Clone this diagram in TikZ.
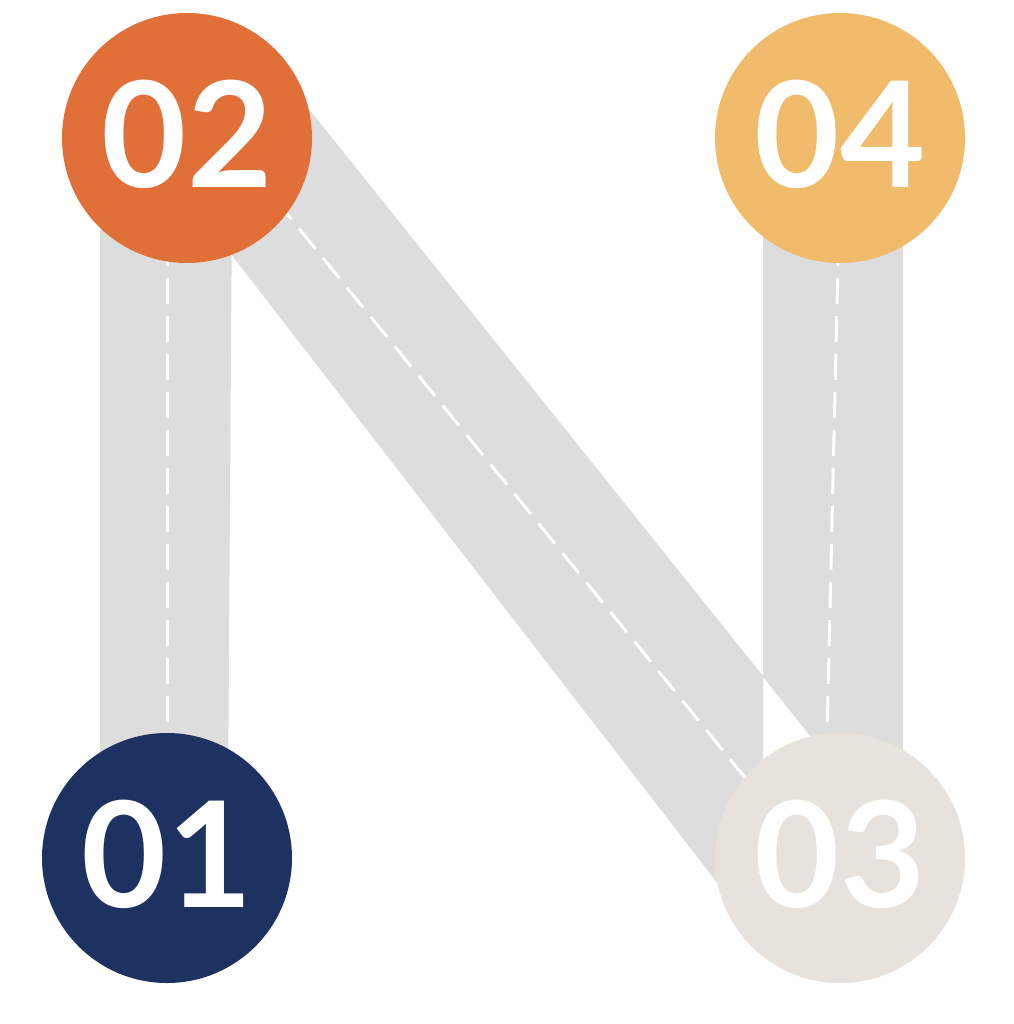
\documentclass[tikz,border=0pt]{standalone}
\usepackage{fontspec}
\newfontfamily\numfont{Lato}
\definecolor{bandgrey}{HTML}{DDDDDD}
\definecolor{orangeA}{HTML}{E07038}
\definecolor{yellowA}{HTML}{F0BB6B}
\definecolor{navyA}{HTML}{1E3262}
\definecolor{beigeA}{HTML}{E7E2DC}
\tikzset{
  band/.style={fill=bandgrey},
  dashline/.style={draw=white, line width=3pt, dash pattern=on 26pt off 12pt},
  numcircle/.style={circle, minimum size=250pt, inner sep=0pt, text=white,
    text depth=8pt, font=\numfont\bfseries\fontsize{147}{147}\selectfont}
}
\begin{document}
\begin{tikzpicture}[x=1pt,y=-1pt]
\useasboundingbox (0,0) rectangle (1013,1024);
\fill[white] (0,0) rectangle (1013,1024);
% bands
\fill[band] (100,200) -- (232,200) -- (228,800) -- (100,800) -- cycle;
\fill[band] (260,48) -- (763,676) -- (763,942) -- (200,214) -- cycle;
\fill[band] (763,200) -- (903,200) -- (903,800) -- (861.5,800) -- (763,677) -- cycle;
% dashed centre lines
\coordinate (l2) at (167,240);
\coordinate (l1) at (167,760);
\coordinate (g2) at (275,199);
\coordinate (g3) at (755,790);
\coordinate (r4) at (838.5,240);
\coordinate (r3) at (826.5,760);
\draw[dashline] (l2) -- (l1);
\draw[dashline] (g2) -- (g3);
\draw[dashline] (r4) -- (r3);
% circles
\node[numcircle, fill=orangeA] (c02) at (187,138) {02};
\node[numcircle, fill=yellowA] (c04) at (840,138) {04};
\node[numcircle, fill=navyA] (c01) at (167,858) {01};
\node[numcircle, fill=beigeA] (c03) at (840,858) {03};
\end{tikzpicture}
\end{document}
